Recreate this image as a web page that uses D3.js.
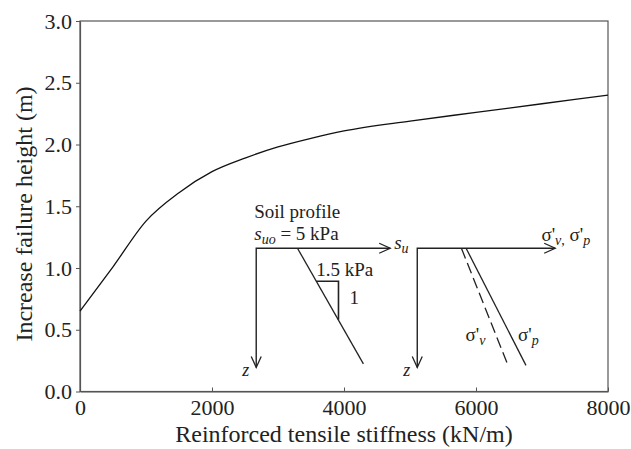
<!DOCTYPE html>
<html lang="en">
<head>
<meta charset="UTF-8">
<script src="https://cdn.jsdelivr.net/npm/d3@7"></script>
<title>Increase failure height</title>
<style>
    body { margin: 0; background: #fff; }
    svg, svg text { font-family: "Liberation Serif", "Times New Roman", Times, "DejaVu Serif", serif !important; }
    .axis path, .axis line { stroke: #555; }
</style>
</head>
<body>
<svg id="chart" width="631" height="449"></svg>
<script>
// curve
var stiffness = [0, 500, 1000, 1500, 2000, 2500, 3000, 3500, 4000, 5000, 6000, 7000, 8000];
var heightIncrease = [0.65, 1.01, 1.38, 1.61, 1.78, 1.89, 1.98, 2.05, 2.11, 2.19, 2.26, 2.33, 2.40];
var xTicks = [0, 2000, 4000, 6000, 8000];
var yTicks = [0, 0.5, 1.0, 1.5, 2.0, 2.5, 3.0];

// schematic insets, in a local 0..1 frame (u across, v down)
var suLine = [[0.308, 0], [0.80, 0.97]];
var slopeTri = [[0.448, 0.277], [0.614, 0.277], [0.614, 0.60]];
var sigmaV = [[0.32, 0], [0.658, 0.983]];
var sigmaP = [[0.354, 0], [0.788, 0.983]];

var svg = d3.select("#chart");
var plotLeft = 80, plotRight = 608, plotTop = 21, plotBottom = 391.5;

var x = d3.scaleLinear().domain([0, 8000]).range([plotLeft, plotRight]);
var y = d3.scaleLinear().domain([0, 3]).range([plotBottom, plotTop]);

// frame
svg.append("rect")
    .attr("x", plotLeft).attr("y", plotTop)
    .attr("width", plotRight - plotLeft).attr("height", plotBottom - plotTop)
    .attr("fill", "none").attr("stroke", "#555").attr("stroke-width", 1.2);

// axes
var xAxis = d3.axisBottom(x).tickValues(xTicks).tickFormat(d3.format("d"))
    .tickSizeInner(-4).tickSizeOuter(0).tickPadding(10);
var gx = svg.append("g").attr("class", "axis")
    .attr("transform", "translate(0," + plotBottom + ")")
    .call(xAxis);
gx.attr("font-size", 22);
gx.selectAll("text").attr("fill", "#222").attr("dy", "0.71em").attr("y", 8);

var yAxis = d3.axisLeft(y).tickValues(yTicks).tickFormat(d3.format(".1f"))
    .tickSizeInner(4).tickSizeOuter(0).tickPadding(4);
var gy = svg.append("g").attr("class", "axis")
    .attr("transform", "translate(" + plotLeft + ",0)")
    .call(yAxis);
gy.attr("font-size", 22);
gy.selectAll("text").attr("fill", "#222");
svg.selectAll(".axis path").attr("stroke-width", 1.2);

svg.append("text")
    .attr("x", (plotLeft + plotRight) / 2).attr("y", 442)
    .attr("text-anchor", "middle").attr("font-size", 24).attr("fill", "#222")
    .text("Reinforced tensile stiffness (kN/m)");

svg.append("text")
    .attr("transform", "translate(32,214) rotate(-90)")
    .attr("text-anchor", "middle").attr("font-size", 24).attr("fill", "#222")
    .text("Increase failure height (m)");

// main curve
var curve = d3.line()
    .x(function (d, i) { return x(stiffness[i]); })
    .y(function (d) { return y(d); })
    .curve(d3.curveMonotoneX);
svg.append("path")
    .datum(heightIncrease)
    .attr("d", curve)
    .attr("fill", "none").attr("stroke", "#111").attr("stroke-width", 1.3);

// ---- insets ----
function inset(x0, x1, y0, y1) {
    return {
        u: d3.scaleLinear().domain([0, 1]).range([x(x0), x(x1)]),
        v: d3.scaleLinear().domain([0, 1]).range([y(y0), y(y1)])
    };
}

function drawAxes(g, s) {
    var ox = s.u(0), oy = s.v(0), ex = s.u(1), ey = s.v(1);
    g.append("path")
        .attr("d", "M" + ex + "," + oy + "H" + ox + "V" + ey)
        .attr("fill", "none").attr("stroke", "#222").attr("stroke-width", 1.4);
    // open arrow heads
    g.append("path")
        .attr("d", "M" + (ex - 11) + "," + (oy - 5) + "L" + ex + "," + oy + "L" + (ex - 11) + "," + (oy + 5))
        .attr("fill", "none").attr("stroke", "#222").attr("stroke-width", 1.3);
    g.append("path")
        .attr("d", "M" + (ox - 5) + "," + (ey - 11) + "L" + ox + "," + ey + "L" + (ox + 5) + "," + (ey - 11))
        .attr("fill", "none").attr("stroke", "#222").attr("stroke-width", 1.3);
    g.append("text")
        .attr("x", ox - 14).attr("y", ey + 9)
        .attr("font-size", 18).attr("font-style", "italic").attr("fill", "#222")
        .text("z");
}

function seg(s) {
    return d3.line().x(function (p) { return s.u(p[0]); }).y(function (p) { return s.v(p[1]); });
}

// inset 1: undrained strength profile
var s1 = inset(2670, 4700, 1.16, 0.195);
var g1 = svg.append("g").attr("fill", "#222");
drawAxes(g1, s1);
g1.append("path").datum(suLine).attr("d", seg(s1))
    .attr("fill", "none").attr("stroke", "#222").attr("stroke-width", 1.3);
g1.append("path").datum(slopeTri).attr("d", seg(s1))
    .attr("fill", "none").attr("stroke", "#222").attr("stroke-width", 1.6);

g1.append("text").attr("x", s1.u(0) - 2).attr("y", s1.v(0) - 30)
    .attr("font-size", 19).text("Soil profile");
var t1 = g1.append("text").attr("x", s1.u(0) - 2).attr("y", s1.v(0) - 8).attr("font-size", 19);
t1.append("tspan").attr("font-style", "italic").text("s");
t1.append("tspan").attr("font-style", "italic").attr("font-size", 14).attr("dy", 4).text("uo");
t1.append("tspan").attr("dy", -4).text(" = 5 kPa");

var t2 = g1.append("text").attr("x", s1.u(1) + 4).attr("y", s1.v(0) + 1).attr("font-size", 19);
t2.append("tspan").attr("font-style", "italic").text("s");
t2.append("tspan").attr("font-style", "italic").attr("font-size", 14).attr("dy", 4).text("u");

g1.append("text").attr("x", s1.u(slopeTri[0][0])).attr("y", s1.v(slopeTri[0][1]) - 5)
    .attr("font-size", 19).text("1.5 kPa");
g1.append("text").attr("x", s1.u(slopeTri[1][0]) + 11).attr("y", s1.v(0.47))
    .attr("font-size", 19).text("1");

// inset 2: effective and preconsolidation stress
var s2 = inset(5110, 7200, 1.16, 0.195);
var g2 = svg.append("g").attr("fill", "#222");
drawAxes(g2, s2);
g2.append("path").datum(sigmaV).attr("d", seg(s2))
    .attr("fill", "none").attr("stroke", "#222").attr("stroke-width", 1.3)
    .attr("stroke-dasharray", "11,5");
g2.append("path").datum(sigmaP).attr("d", seg(s2))
    .attr("fill", "none").attr("stroke", "#222").attr("stroke-width", 1.3);

function sigma(g, xp, yp, sub) {
    var t = g.append("text").attr("x", xp).attr("y", yp).attr("font-size", 19);
    t.append("tspan").text("σ'");
    t.append("tspan").attr("font-style", "italic").attr("font-size", 14).attr("dy", 4).text(sub);
    return t;
}
var t3 = g2.append("text").attr("x", s2.u(0.9)).attr("y", s2.v(0) - 7).attr("font-size", 19);
t3.append("tspan").text("σ'");
t3.append("tspan").attr("font-style", "italic").attr("font-size", 14).attr("dy", 4).text("v");
t3.append("tspan").attr("font-size", 14).text(",");
t3.append("tspan").attr("dy", -4).text(" σ'");
t3.append("tspan").attr("font-style", "italic").attr("font-size", 14).attr("dy", 4).text("p");

sigma(g2, s2.u(0.35), s2.v(0.78), "v");
sigma(g2, s2.u(0.73), s2.v(0.78), "p");
</script>
</body>
</html>
